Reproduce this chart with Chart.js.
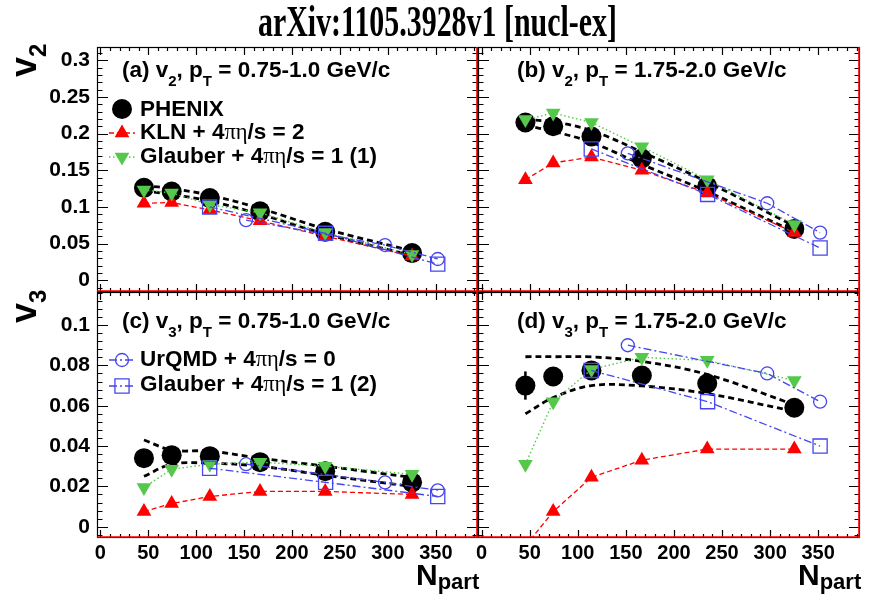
<!DOCTYPE html>
<html lang="en">
<head>
<meta charset="UTF-8">
<title>v2 and v3 vs Npart</title>
<script src="https://cdn.jsdelivr.net/npm/chart.js@4.4.1/dist/chart.umd.min.js"></script>
<style>
  body { margin: 0; background: #fff; }
  #page { position: relative; width: 876px; height: 603px; overflow: hidden; background: #fff;
          font-family: "Liberation Sans", Arial, sans-serif; }
  #page canvas { position: absolute; left: 0; top: 0; }
  .t { position: absolute; white-space: nowrap; font-weight: bold; line-height: 1; color: #000; }
  .lbl { font-size: 22.5px; }
  .sub { font-size: 15px; position: relative; top: 9px; }
  .gr { font-family: "Liberation Serif", "DejaVu Serif", serif; font-weight: normal; }
  #title { left: 258px; top: -1px; font-family: "Liberation Serif", serif; font-size: 45px; transform-origin: 0 0; }
  .ax { font-size: 36px; transform-origin: 0 0; transform: rotate(-90deg); }
  .ax .s { font-size: 24px; position: relative; top: 10px; }
  .np { font-size: 30px; }
  .np .s { font-size: 22px; position: relative; top: 4px; }
</style>
</head>
<body>
<div id="page">
  <canvas id="pa" width="876" height="603"></canvas>
  <canvas id="pb" width="876" height="603"></canvas>
  <canvas id="pc" width="876" height="603"></canvas>
  <canvas id="pd" width="876" height="603"></canvas>

  <div id="title" class="t">arXiv:1105.3928v1 [nucl-ex]</div>

  <div class="t ax" style="left:6px; top:77px;">v<span class="s">2</span></div>
  <div class="t ax" style="left:6px; top:323px;">v<span class="s">3</span></div>
  <div class="t np" style="left:416px; top:560px;">N<span class="s">part</span></div>
  <div class="t np" style="left:798px; top:560px;">N<span class="s">part</span></div>

  <div class="t lbl" style="left:122px; top:59px;">(a) v<span class="sub">2</span>, p<span class="sub">T</span> = 0.75-1.0 GeV/c</div>
  <div class="t lbl" style="left:517px; top:59px;">(b) v<span class="sub">2</span>, p<span class="sub">T</span> = 1.75-2.0 GeV/c</div>
  <div class="t lbl" style="left:122px; top:310px;">(c) v<span class="sub">3</span>, p<span class="sub">T</span> = 0.75-1.0 GeV/c</div>
  <div class="t lbl" style="left:517px; top:310px;">(d) v<span class="sub">3</span>, p<span class="sub">T</span> = 1.75-2.0 GeV/c</div>

  <div class="t lbl" style="left:140px; top:98px;">PHENIX</div>
  <div class="t lbl" style="left:140px; top:121px;">KLN + 4<span class="gr">πη</span>/s = 2</div>
  <div class="t lbl" style="left:140px; top:145px;">Glauber + 4<span class="gr">πη</span>/s = 1 (1)</div>
  <div class="t lbl" style="left:140px; top:348px;">UrQMD + 4<span class="gr">πη</span>/s = 0</div>
  <div class="t lbl" style="left:140px; top:373px;">Glauber + 4<span class="gr">πη</span>/s = 1 (2)</div>
</div>

<script>
// N_part of the centrality bins, and of the two model curves with their own points
const npart = [45.5, 74.4, 114.2, 166.6, 234.6, 325.2];
const npartUrqmd = [152, 297, 352];
const npartGlb2 = [114, 235, 352];

const xTicks = [0, 50, 100, 150, 200, 250, 300, 350];
const v2Ticks = [0, 0.05, 0.1, 0.15, 0.2, 0.25, 0.3];
const v2Labels = ['0', '0.05', '0.1', '0.15', '0.2', '0.25', '0.3'];
const v3Ticks = [0, 0.02, 0.04, 0.06, 0.08, 0.1];
const v3Labels = ['0', '0.02', '0.04', '0.06', '0.08', '0.1'];

// (a) v2, pT = 0.75-1.0 GeV/c
const phenixA = [0.126, 0.121, 0.112, 0.094, 0.066, 0.037];
const errA = [0.002, 0.002, 0.001, 0.001, 0.001, 0.001];
const sysHiA = [0.129, 0.125, 0.116, 0.098, 0.070, 0.040];
const sysLoA = [0.122, 0.117, 0.108, 0.090, 0.063, 0.034];
const klnA = [0.105, 0.106, 0.096, 0.081, 0.060, 0.033];
const glb1A = [0.123, 0.119, 0.103, 0.092, 0.065, 0.035];
const urqmdA = [0.082, 0.048, 0.029];
const glb2A = [0.100, 0.064, 0.022];

// (b) v2, pT = 1.75-2.0 GeV/c
const phenixB = [0.215, 0.210, 0.196, 0.166, 0.128, 0.070];
const errB = [0.003, 0.002, 0.002, 0.002, 0.002, 0.002];
const sysHiB = [0.219, 0.216, 0.204, 0.175, 0.134, 0.074];
const sysLoB = [0.211, 0.203, 0.188, 0.158, 0.121, 0.066];
const klnB = [0.137, 0.160, 0.168, 0.150, 0.119, 0.065];
const glb1B = [0.219, 0.228, 0.215, 0.182, 0.137, 0.076];
const urqmdB = [0.173, 0.105, 0.065];
const glb2B = [0.179, 0.117, 0.044];

// (c) v3, pT = 0.75-1.0 GeV/c
const phenixC = [0.034, 0.0355, 0.035, 0.032, 0.0275, 0.022];
const errC = [0.002, 0.001, 0.001, 0.001, 0.001, 0.001];
const sysHiC = [0.043, 0.038, 0.0375, 0.034, 0.030, 0.0245];
const sysLoC = [0.025, 0.031, 0.0315, 0.030, 0.0255, 0.020];
const klnC = [0.0075, 0.0115, 0.015, 0.0175, 0.0175, 0.016];
const glb1C = [0.0195, 0.0285, 0.031, 0.032, 0.030, 0.026];
const urqmdC = [0.031, 0.022, 0.018];
const glb2C = [0.029, 0.022, 0.015];

// (d) v3, pT = 1.75-2.0 GeV/c
const phenixD = [0.070, 0.0745, 0.0775, 0.075, 0.071, 0.059];
const errD = [0.007, 0.003, 0.002, 0.002, 0.002, 0.002];
const sysHiD = [0.0843, 0.0843, 0.0842, 0.0820, 0.0755, 0.0605];
const sysLoD = [0.0560, 0.0640, 0.0700, 0.0698, 0.0660, 0.0572];
const klnD = [-0.0095, 0.0075, 0.0245, 0.033, 0.0385, 0.0385];
const glb1D = [0.031, 0.062, 0.078, 0.084, 0.0825, 0.0725];
const urqmdD = [0.090, 0.076, 0.062];
const glb2D = [0.0775, 0.062, 0.040];

const BLUE = '#4646ee';
const RED = '#ff0000';
const GREEN = '#55c84b';

// fit the condensed title to its width
const title = document.getElementById('title');
title.style.transform = 'scaleX(' + (359 / title.offsetWidth) + ')';

Chart.defaults.font.family = '"Liberation Sans", Arial, sans-serif';
Chart.defaults.font.weight = 'bold';
Chart.defaults.color = '#000';

function pts(xs, ys) {
    return xs.map((x, i) => ({ x: x, y: ys[i] }));
}

function datasets(p) {
    const none = 'rgba(0,0,0,0)';
    return [
        { data: pts(npartUrqmd, p.urqmd), borderColor: BLUE, backgroundColor: none, borderWidth: 1.3,
          borderDash: [8, 3, 2, 3], pointStyle: 'circle', pointRadius: 6.5, pointBorderWidth: 1.3, order: 1 },
        { data: pts(npartGlb2, p.glb2), borderColor: BLUE, backgroundColor: none, borderWidth: 1.3,
          borderDash: [8, 3, 2, 3], pointStyle: 'rect', pointRadius: 10, pointBorderWidth: 1.3, order: 1 },
        { data: pts(npart, p.glb1), borderColor: GREEN, backgroundColor: GREEN, borderWidth: 1.4,
          borderDash: [1.5, 2.5], pointStyle: 'triangle', pointRotation: 180, pointRadius: 8.5,
          pointBorderWidth: 0, order: 2 },
        { data: pts(npart, p.kln), borderColor: RED, backgroundColor: RED, borderWidth: 1.3,
          borderDash: [5, 3], pointStyle: 'triangle', pointRadius: 8.5, pointBorderWidth: 0, order: 3 },
        { data: pts(npart, p.phenix), yErr: p.err, borderColor: '#000', backgroundColor: '#000',
          showLine: false, pointStyle: 'circle', pointRadius: 10, pointBorderWidth: 0, order: 4 },
        { data: pts(npart, p.sysHi), borderColor: '#000', borderWidth: 2.8, borderDash: [6, 4],
          pointRadius: 0, tension: 0.35, order: 5 },
        { data: pts(npart, p.sysLo), borderColor: '#000', borderWidth: 2.8, borderDash: [6, 4],
          pointRadius: 0, tension: 0.35, order: 5 }
    ];
}

const panelDeco = {
    id: 'panelDeco',
    beforeDatasetsDraw(chart) {
        const { ctx, scales: { x, y } } = chart;
        ctx.save();
        ctx.strokeStyle = '#000';
        ctx.lineWidth = 2.5;
        chart.data.datasets.forEach(ds => {
            if (!ds.yErr) return;
            ds.data.forEach((p, i) => {
                const px = x.getPixelForValue(p.x);
                ctx.beginPath();
                ctx.moveTo(px, y.getPixelForValue(p.y - ds.yErr[i]));
                ctx.lineTo(px, y.getPixelForValue(p.y + ds.yErr[i]));
                ctx.stroke();
            });
        });
        ctx.restore();
    },
    afterDraw(chart, args, opts) {
        const { ctx, chartArea: a, scales: { x, y } } = chart;
        ctx.save();
        // frame
        ctx.strokeStyle = '#000';
        ctx.lineWidth = 1.2;
        ctx.strokeRect(a.left + 0.5, a.top + 0.5, a.width - 1, a.height - 1);
        // tick marks on all four sides, inside the frame
        ctx.beginPath();
        for (let v = 0; v <= x.max; v += 10) {
            const px = Math.round(x.getPixelForValue(v)) + 0.5;
            const len = v % 50 === 0 ? 8 : 4;
            ctx.moveTo(px, a.bottom); ctx.lineTo(px, a.bottom - len);
            ctx.moveTo(px, a.top); ctx.lineTo(px, a.top + len);
        }
        const step = opts.yMinor;
        for (let k = Math.ceil(y.min / step); k * step <= y.max; k++) {
            const py = Math.round(y.getPixelForValue(k * step)) + 0.5;
            const len = k % 5 === 0 ? 11 : 5.5;
            ctx.moveTo(a.left, py); ctx.lineTo(a.left + len, py);
            ctx.moveTo(a.right, py); ctx.lineTo(a.right - len, py);
        }
        ctx.stroke();
        // red pad edges
        ctx.strokeStyle = RED;
        ctx.lineWidth = 1.6;
        ctx.beginPath();
        ctx.moveTo(a.left, a.bottom - 1); ctx.lineTo(a.right, a.bottom - 1);
        ctx.moveTo(a.right - 1, a.top); ctx.lineTo(a.right - 1, a.bottom);
        ctx.stroke();
        // legend symbols
        (opts.legend || []).forEach(e => {
            const ds = chart.data.datasets[e.ds];
            if (ds.showLine !== false) {
                ctx.strokeStyle = ds.borderColor;
                ctx.lineWidth = ds.borderWidth;
                ctx.setLineDash(ds.borderDash || []);
                ctx.beginPath();
                ctx.moveTo(e.x - 13, e.y); ctx.lineTo(e.x + 13, e.y);
                ctx.stroke();
                ctx.setLineDash([]);
            }
            ctx.fillStyle = ds.backgroundColor;
            ctx.strokeStyle = ds.borderColor;
            ctx.lineWidth = ds.pointBorderWidth;
            Chart.helpers.drawPoint(ctx, {
                pointStyle: ds.pointStyle, radius: ds.pointRadius,
                rotation: ds.pointRotation || 0, borderWidth: ds.pointBorderWidth
            }, e.x, e.y);
        });
        ctx.restore();
    }
};

function panel(id, p) {
    const top = p.row === 0;
    const left = p.col === 0;
    new Chart(document.getElementById(id), {
        type: 'line',
        data: { datasets: datasets(p) },
        options: {
            responsive: false,
            animation: false,
            events: [],
            layout: {
                padding: {
                    left: left ? 0 : 478,
                    right: left ? 398 : 16,
                    top: top ? 47 : 292,
                    bottom: top ? 311 : 25
                }
            },
            plugins: {
                legend: { display: false },
                tooltip: { enabled: false },
                panelDeco: { yMinor: top ? 0.01 : 0.004, legend: p.legend }
            },
            scales: {
                x: {
                    type: 'linear',
                    min: left ? -3.5 : -3.8,
                    max: left ? 394 : 393.5,
                    display: !top,
                    grid: { display: false, drawTicks: false },
                    border: { display: false },
                    afterBuildTicks: s => { s.ticks = xTicks.map(v => ({ value: v })); },
                    afterFit: s => { if (!top) s.height = 40; },
                    ticks: { autoSkip: false, maxRotation: 0, padding: 3, color: '#000',
                             font: { size: 20, weight: 'bold' } }
                },
                y: {
                    type: 'linear',
                    min: top ? -0.016 : -0.0056,
                    max: top ? 0.318 : 0.1164,
                    display: left,
                    grid: { display: false, drawTicks: false },
                    border: { display: false },
                    afterBuildTicks: s => { s.ticks = (top ? v2Ticks : v3Ticks).map(v => ({ value: v })); },
                    afterFit: s => { if (left) s.width = 97; },
                    ticks: { autoSkip: false, padding: 7, color: '#000',
                             font: { size: 21, weight: 'bold' },
                             callback: (v, i) => (top ? v2Labels : v3Labels)[i] }
                }
            }
        },
        plugins: [panelDeco]
    });
}

panel('pa', { row: 0, col: 0, phenix: phenixA, err: errA, sysHi: sysHiA, sysLo: sysLoA,
              kln: klnA, glb1: glb1A, urqmd: urqmdA, glb2: glb2A,
              legend: [{ ds: 4, x: 122, y: 109 }, { ds: 3, x: 122, y: 133 }, { ds: 2, x: 122, y: 157 }] });
panel('pb', { row: 0, col: 1, phenix: phenixB, err: errB, sysHi: sysHiB, sysLo: sysLoB,
              kln: klnB, glb1: glb1B, urqmd: urqmdB, glb2: glb2B });
panel('pc', { row: 1, col: 0, phenix: phenixC, err: errC, sysHi: sysHiC, sysLo: sysLoC,
              kln: klnC, glb1: glb1C, urqmd: urqmdC, glb2: glb2C,
              legend: [{ ds: 0, x: 122, y: 360 }, { ds: 1, x: 122, y: 386 }] });
panel('pd', { row: 1, col: 1, phenix: phenixD, err: errD, sysHi: sysHiD, sysLo: sysLoD,
              kln: klnD, glb1: glb1D, urqmd: urqmdD, glb2: glb2D });
</script>
</body>
</html>
